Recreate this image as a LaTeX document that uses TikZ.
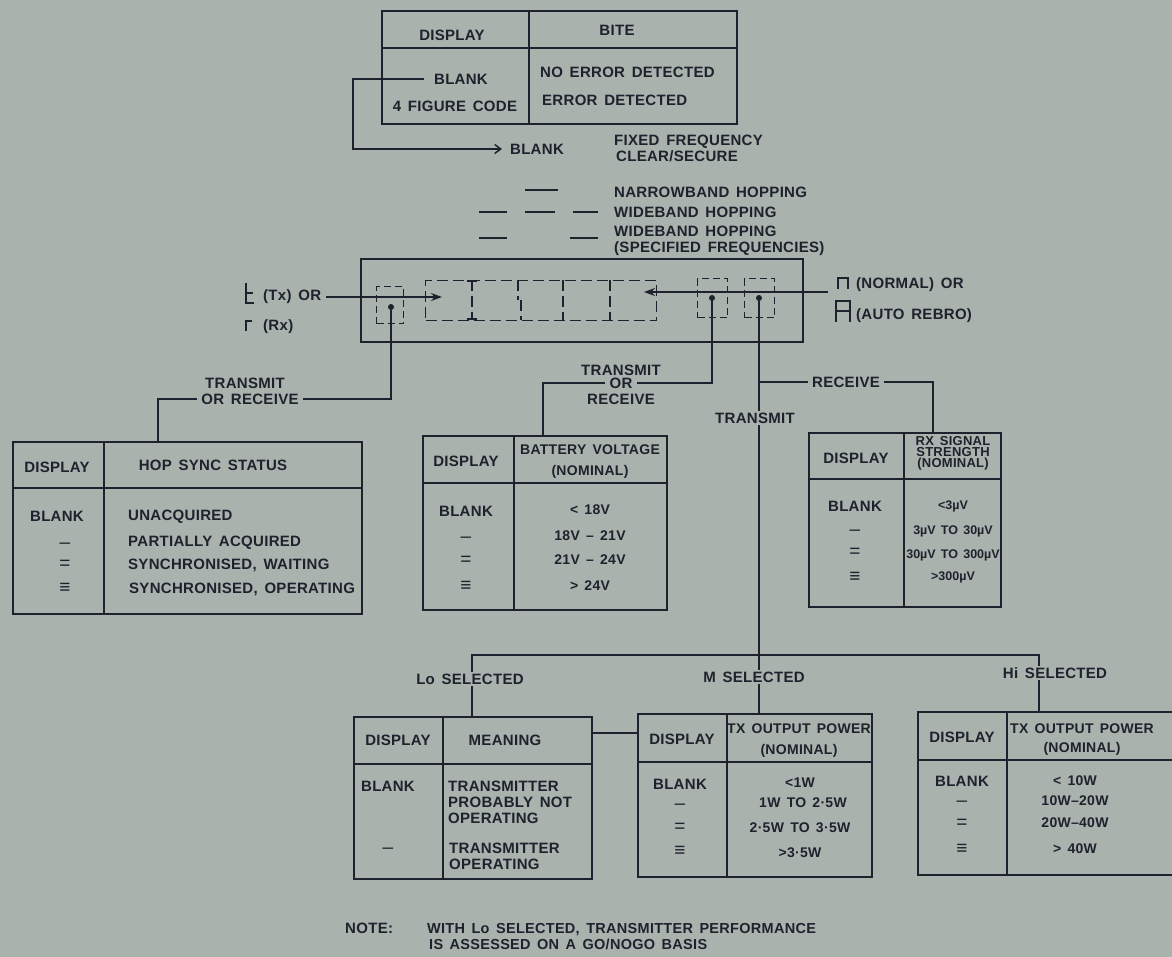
\documentclass[tikz,border=0pt]{standalone}
\usepackage{fontspec}
\setmainfont[WordSpace=1.5,LetterSpace=2]{Liberation Sans}
\usetikzlibrary{arrows.meta}
\definecolor{bg}{RGB}{170,178,174}
\definecolor{ink}{RGB}{30,34,44}
\begin{document}
\begin{tikzpicture}[x=1pt,y=-1pt,
 every node/.style={font=\fontsize{15}{17}\selectfont\bfseries, text=ink, inner sep=0pt, text height=10.5pt, text depth=0pt},
 ln/.style={draw=ink, line width=1.5pt},
 tbl/.style={draw=ink, line width=1.6pt, rectangle, text height=0pt},
 lb/.style={fill=bg, inner xsep=4pt, inner ysep=2pt},
 dsh/.style={draw=ink, line width=1.4pt, dash pattern=on 11pt off 5pt},
 seg/.style={draw=ink, line width=1.8pt},
 dot/.style={circle, fill=ink, inner sep=0pt, minimum size=6pt, text height=0pt},
 sm/.style={font=\fontsize{13}{14}\selectfont\bfseries, text height=9.3pt},
 hd/.style={font=\fontsize{14}{15}\selectfont\bfseries},
 val/.style={font=\fontsize{14}{15}\selectfont\bfseries},
 rval/.style={font=\fontsize{12.5}{14}\selectfont\bfseries\addfontfeature{LetterSpace=0}, text height=9pt},
 sym/.style={font=\fontsize{19}{19}\selectfont, text height=10pt},
 barb/.style={-{Straight Barb[length=6pt,width=9pt]}},
 stl/.style={-{Stealth[length=11pt,width=8pt]}}
]
\fill[bg] (0,0) rectangle (1172,957);
\useasboundingbox (0,0) rectangle (1172,957);

% ---------------- BITE table ----------------
\node[tbl, anchor=north west, minimum width=355pt, minimum height=113pt] (bite) at (381,10) {};
\draw[ln] (529,10) -- (529,123);
\draw[ln] (381,48) -- (736,48);
\node (biteD) at (452,35) {DISPLAY};
\node (biteB) at (617,30) {BITE};
\node (biteBlank) at (461,79) {BLANK};
\node (biteCode) at (455,106) {4 FIGURE CODE};
\node[anchor=west] (biteNo) at (540,72) {NO ERROR DETECTED};
\node[anchor=west] (biteErr) at (542,100) {ERROR DETECTED};

% ---------------- legend ----------------
\node (blank2) at (537,149) {BLANK};
\coordinate (bendA) at (353,79);
\draw[ln, barb, shorten >=8pt] ([xshift=-10pt]biteBlank.west) -- (bendA) |- (blank2.west);
\node[anchor=west] (ff) at (614,140) {FIXED FREQUENCY};
\node[anchor=west] (cs) at (616,156) {CLEAR/SECURE};
\node[anchor=west] (nb) at (614,192) {NARROWBAND HOPPING};
\node[anchor=west] (wb) at (614,212) {WIDEBAND HOPPING};
\node[anchor=west] (wbs) at (614,231) {WIDEBAND HOPPING};
\node[anchor=west] (wbs2) at (614,247) {(SPECIFIED FREQUENCIES)};
\draw[ln] (525,190) -- (558,190);
\draw[ln] (479,212) -- (507,212) (525,212) -- (555,212) (573,212) -- (598,212);
\draw[ln] (479,238) -- (507,238) (570,238) -- (598,238);

% ---------------- display panel ----------------
\node[tbl, anchor=north west, minimum width=442pt, minimum height=83pt] (panel) at (360,258) {};
\node[draw=ink, line width=1.4pt, dash pattern=on 7pt off 4pt, anchor=north west, minimum width=27pt, minimum height=37pt, text height=0pt] (box1) at (376,286) {};
\node[draw=ink, line width=1.4pt, dash pattern=on 11pt off 5pt, anchor=north west, minimum width=231pt, minimum height=40pt, text height=0pt] (digits) at (425,280) {};
\draw[dsh] (472,280) -- (472,320);
\draw[ln] (467,281) -- (477,281) (467,319) -- (477,319);
\draw[dsh] (518,280) -- (518,300);
\draw[dsh] (521,300) -- (521,320);
\draw[dsh] (563,280) -- (563,320);
\draw[dsh] (610,280) -- (610,320);
\node[draw=ink, line width=1.4pt, dash pattern=on 7pt off 4pt, anchor=north west, minimum width=30pt, minimum height=39pt, text height=0pt] (box2) at (697,278) {};
\node[draw=ink, line width=1.4pt, dash pattern=on 7pt off 4pt, anchor=north west, minimum width=30pt, minimum height=39pt, text height=0pt] (box3) at (744,278) {};
\node[dot] (dot1) at (391,307) {};
\node[dot] (dot2) at (712,298) {};
\node[dot] (dot3) at (759,298) {};

% left labels (seven segment glyphs)
\draw[seg] (246,283) -- (246,303) -- (254,303);
\draw[seg] (246,293) -- (253,293);
\node[anchor=west] (txor) at (263,295) {(Tx) OR};
\draw[seg] (246,331) -- (246,321) -- (252,321);
\node[anchor=west] (rx) at (263,325) {(Rx)};
\coordinate (arrL) at (442,297);
\draw[ln, stl] ([xshift=5pt]txor.east |- arrL) -- (arrL);

% right labels
\draw[seg] (838,289) -- (838,278) -- (848,278) -- (848,289);
\node[anchor=west] (normal) at (856,283) {(NORMAL) OR};
\draw[seg] (836,322) -- (836,301) -- (850,301) -- (850,322);
\draw[seg] (836,311) -- (850,311);
\node[anchor=west] (auto) at (856,314) {(AUTO REBRO)};
\coordinate (arrRs) at (828,292);
\coordinate (arrR) at (644,292);
\draw[ln, stl] (arrRs) -- (arrR);

% ---------------- connectors from display ----------------
\node[lb] (orrec1) at (250,399) {OR RECEIVE};
\node (tr1) at (245,383) {TRANSMIT};
\draw[ln] (dot1) |- (orrec1.east);
\node[tbl, anchor=north west, minimum width=349pt, minimum height=172pt] (hop) at (12,441) {};
\draw[ln] (orrec1.west) -| ([xshift=146pt]hop.north west);

\node[lb] (or2) at (621,383) {OR};
\node (tr2) at (621,370) {TRANSMIT};
\node (rc2) at (621,399) {RECEIVE};
\draw[ln] (dot2) |- (or2.east);
\node[tbl, anchor=north west, minimum width=244pt, minimum height=174pt] (bat) at (422,435) {};
\draw[ln] (or2.west) -| ([xshift=121pt]bat.north west);

\coordinate (bus) at (759,655);
\draw[ln] (dot3) -- (bus);
\node[lb] (trm) at (755,418) {TRANSMIT};
\node[lb] (rcv) at (846,382) {RECEIVE};
\draw[ln] (759,382) -- (rcv.west);
\node[tbl, anchor=north west, minimum width=192pt, minimum height=174pt] (rxt) at (808,432) {};
\draw[ln] (rcv.east) -| ([xshift=125pt]rxt.north west);

% ---------------- bus to bottom tables ----------------
\node[tbl, anchor=north west, minimum width=238pt, minimum height=162pt] (lo) at (353,716) {};
\node[tbl, anchor=north west, minimum width=234pt, minimum height=163pt] (mt) at (637,713) {};
\node[tbl, anchor=north west, minimum width=263pt, minimum height=163pt] (hi) at (917,711) {};
\coordinate (busL) at (472,655);
\coordinate (busR) at (1039,655);
\draw[ln] ([xshift=119pt]lo.north west) -- (busL) -- (busR) -- ([xshift=122pt]hi.north west);
\draw[ln] (bus) -- ([xshift=122pt]mt.north west);
\draw[ln] ([yshift=-17pt]lo.north east) -- ([yshift=-17pt]lo.north east -| mt.west);
\node[lb] (loSel) at (470,679) {Lo SELECTED};
\node[lb] (mSel) at (754,677) {M SELECTED};
\node[lb] (hiSel) at (1055,673) {Hi SELECTED};

% ---------------- HOP SYNC table ----------------
\draw[ln] (104,441) -- (104,613);
\draw[ln] (12,488) -- (361,488);
\node (hD) at (57,467) {DISPLAY};
\node (hH) at (213,465) {HOP SYNC STATUS};
\node (hB) at (57,516) {BLANK};
\node[anchor=west] (h1) at (128,515) {UNACQUIRED};
\node[anchor=west] (h2) at (128,541) {PARTIALLY ACQUIRED};
\node[anchor=west] (h3) at (128,564) {SYNCHRONISED, WAITING};
\node[anchor=west] (h4) at (129,588) {SYNCHRONISED, OPERATING};
\node[sym] (hs1) at (65,543) {–};
\node[sym] (hs2) at (65,564) {=};
\node[sym] (hs3) at (65,588) {≡};

% ---------------- Battery table ----------------
\draw[ln] (514,435) -- (514,609);
\draw[ln] (422,483) -- (666,483);
\node (bD) at (466,461) {DISPLAY};
\node[hd] (bH1) at (590,449) {BATTERY VOLTAGE};
\node[hd] (bH2) at (590,470) {(NOMINAL)};
\node (bB) at (466,511) {BLANK};
\node[val] (b1) at (590,509) {< 18V};
\node[val] (b2) at (590,535) {18V – 21V};
\node[val] (b3) at (590,559) {21V – 24V};
\node[val] (b4) at (590,585) {> 24V};
\node[sym] (bs1) at (466,537) {–};
\node[sym] (bs2) at (466,560) {=};
\node[sym] (bs3) at (466,586) {≡};

% ---------------- RX table ----------------
\draw[ln] (904,432) -- (904,606);
\draw[ln] (808,479) -- (1000,479);
\node (rD) at (856,458) {DISPLAY};
\node[sm] (rH1) at (953,441) {RX SIGNAL};
\node[sm] (rH2) at (953,452) {STRENGTH};
\node[sm] (rH3) at (953,463) {(NOMINAL)};
\node (rB) at (855,506) {BLANK};
\node[rval] (r1) at (953,505) {<3µV};
\node[rval] (r2) at (953,530) {3µV TO 30µV};
\node[rval] (r3) at (953,554) {30µV TO 300µV};
\node[rval] (r4) at (953,576) {>300µV};
\node[sym] (rs1) at (855,530) {–};
\node[sym] (rs2) at (855,552) {=};
\node[sym] (rs3) at (855,577) {≡};

% ---------------- Lo table ----------------
\draw[ln] (443,716) -- (443,878);
\draw[ln] (353,764) -- (591,764);
\node (lD) at (398,740) {DISPLAY};
\node (lM) at (505,740) {MEANING};
\node (lB) at (388,786) {BLANK};
\node[anchor=west] (l1) at (448,786) {TRANSMITTER};
\node[anchor=west] (l2) at (448,802) {PROBABLY NOT};
\node[anchor=west] (l3) at (448,818) {OPERATING};
\node[sym] (ls1) at (388,848) {–};
\node[anchor=west] (l4) at (449,848) {TRANSMITTER};
\node[anchor=west] (l5) at (449,864) {OPERATING};

% ---------------- M table ----------------
\draw[ln] (727,713) -- (727,876);
\draw[ln] (637,762) -- (871,762);
\node (mD) at (682,739) {DISPLAY};
\node[hd] (mH1) at (799,728) {TX OUTPUT POWER};
\node[hd] (mH2) at (799,749) {(NOMINAL)};
\node (mB) at (680,784) {BLANK};
\node[val] (m1) at (800,782) {<1W};
\node[val] (m2) at (803,802) {1W TO 2·5W};
\node[val] (m3) at (800,827) {2·5W TO 3·5W};
\node[val] (m4) at (800,852) {>3·5W};
\node[sym] (ms1) at (680,804) {–};
\node[sym] (ms2) at (680,827) {=};
\node[sym] (ms3) at (680,851) {≡};

% ---------------- Hi table ----------------
\draw[ln] (1007,711) -- (1007,874);
\draw[ln] (917,760) -- (1180,760);
\node (iD) at (962,737) {DISPLAY};
\node[hd, anchor=west] (iH1) at (1010,728) {TX OUTPUT POWER};
\node[hd] (iH2) at (1082,747) {(NOMINAL)};
\node (iB) at (962,781) {BLANK};
\node[val] (i1) at (1075,780) {< 10W};
\node[val] (i2) at (1075,800) {10W–20W};
\node[val] (i3) at (1075,822) {20W–40W};
\node[val] (i4) at (1075,848) {> 40W};
\node[sym] (is1) at (962,801) {–};
\node[sym] (is2) at (962,823) {=};
\node[sym] (is3) at (962,849) {≡};

% ---------------- note ----------------
\node[anchor=west] (note) at (345,928) {NOTE:};
\node[anchor=west, font=\fontsize{14.5}{16}\selectfont\bfseries] (note1) at (427,928) {WITH Lo SELECTED, TRANSMITTER PERFORMANCE};
\node[anchor=west, font=\fontsize{14.5}{16}\selectfont\bfseries] (note2) at (429,944) {IS ASSESSED ON A GO/NOGO BASIS};
\end{tikzpicture}
\end{document}
